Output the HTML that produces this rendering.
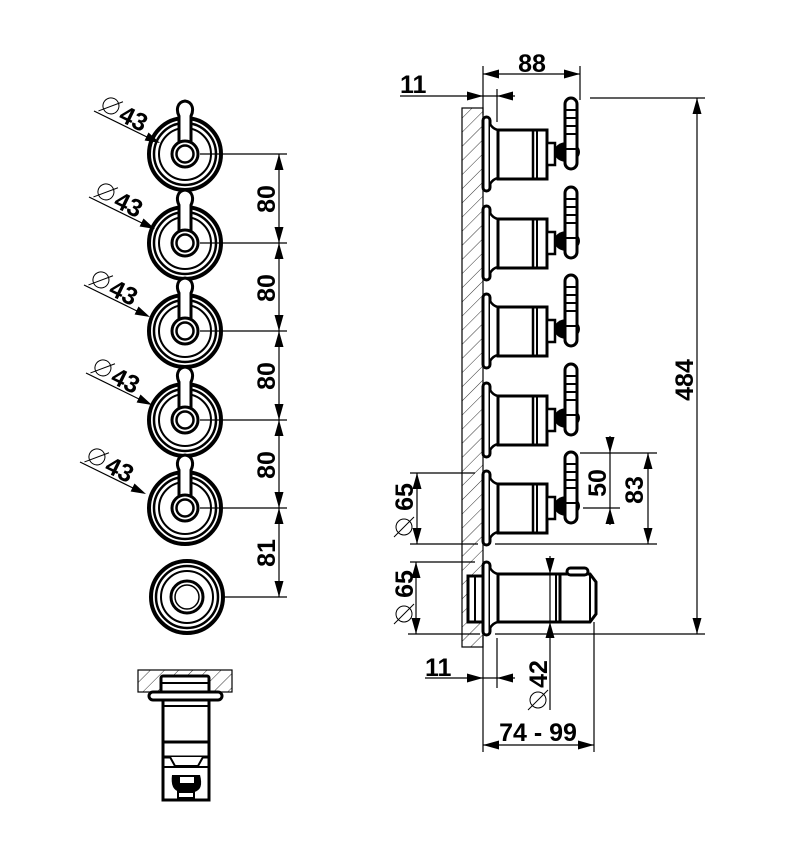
<!DOCTYPE html>
<html><head><meta charset="utf-8"><style>
html,body{margin:0;padding:0;background:#fff}
svg{display:block}
text{font-family:"Liberation Sans",sans-serif;font-weight:bold;fill:#000}
</style></head><body>
<svg width="786" height="842" viewBox="0 0 786 842" xmlns="http://www.w3.org/2000/svg">
<defs>
<pattern id="h" patternUnits="userSpaceOnUse" width="10" height="10" patternTransform="rotate(45)">
<line x1="0" y1="0" x2="0" y2="10" stroke="#000" stroke-width="0.8"/>
</pattern>
<g id="knob">
<circle r="36" fill="#fff" stroke="#000" stroke-width="4"/>
<circle r="31" fill="none" stroke="#000" stroke-width="2.5"/>
<circle r="26" fill="none" stroke="#000" stroke-width="2"/>
<path d="M-6,-8 L-6,-38 C-9,-44 -8,-52 0,-53 C8,-52 9,-44 6,-38 L6,-8" fill="#fff" stroke="#000" stroke-width="3"/>
<circle r="13" fill="#fff" stroke="#000" stroke-width="3"/>
<circle r="8.5" fill="#fff" stroke="#000" stroke-width="2.5"/>
</g>
<g id="valve">
<rect x="483" y="-37" width="7" height="74" rx="3.5" fill="#fff" stroke="#000" stroke-width="3"/>
<path d="M490,-30 Q493,-25 498,-24 L498,24 Q493,25 490,30" fill="#fff" stroke="#000" stroke-width="2.5"/>
<rect x="498" y="-24" width="49" height="49" fill="#fff" stroke="#000" stroke-width="3"/>
<line x1="533" y1="-24" x2="533" y2="25" stroke="#000" stroke-width="2.5"/>
<line x1="537" y1="-24" x2="537" y2="25" stroke="#000" stroke-width="2"/>
<rect x="547" y="-11" width="8" height="22" fill="#fff" stroke="#000" stroke-width="2.5"/>
<ellipse cx="567" cy="-2" rx="13" ry="10" fill="#000"/>
<rect x="565" y="-56" width="12" height="71" rx="6" fill="#fff" stroke="#000" stroke-width="3"/>
<g stroke="#000" stroke-width="2">
<line x1="565" y1="-44" x2="577" y2="-44"/><line x1="565" y1="-36" x2="577" y2="-36"/><line x1="565" y1="-28" x2="577" y2="-28"/><line x1="565" y1="-20" x2="577" y2="-20"/><line x1="565" y1="-5" x2="577" y2="-5"/>
</g>
</g>
<g id="d43"><line x1="0" y1="0" x2="55" y2="27" stroke="#000" stroke-width="1.2"/>
<polygon points="66,32 50.6,29.5 54.5,21.5" fill="#000"/>
<g transform="rotate(26)"><circle cx="13" cy="-12" r="8" fill="none" stroke="#000" stroke-width="1"/><line x1="4" y1="-2" x2="22" y2="-21" stroke="#000" stroke-width="1"/><text x="25" y="-2" font-size="25">43</text></g></g>
</defs>

<g transform="translate(185,154)"><use href="#knob"/></g>
<g transform="translate(185,243)"><use href="#knob"/></g>
<g transform="translate(185,331)"><use href="#knob"/></g>
<g transform="translate(185,420)"><use href="#knob"/></g>
<g transform="translate(185,508)"><use href="#knob"/></g>
<g transform="translate(187,597)">
<circle r="36" fill="#fff" stroke="#000" stroke-width="4"/>
<circle r="31" fill="none" stroke="#000" stroke-width="2.5"/>
<circle r="26" fill="none" stroke="#000" stroke-width="2"/>
<circle r="16" fill="#fff" stroke="#000" stroke-width="3"/>
<circle r="12" fill="none" stroke="#000" stroke-width="1.5"/>
</g>
<g transform="translate(94,111)"><use href="#d43"/></g>
<g transform="translate(89,197)"><use href="#d43"/></g>
<g transform="translate(84,285)"><use href="#d43"/></g>
<g transform="translate(86,373)"><use href="#d43"/></g>
<g transform="translate(80,462)"><use href="#d43"/></g>

<g stroke="#000" stroke-width="1.2">
<line x1="200" y1="154" x2="287" y2="154"/><line x1="200" y1="243" x2="287" y2="243"/><line x1="200" y1="331" x2="287" y2="331"/><line x1="200" y1="420" x2="287" y2="420"/><line x1="200" y1="508" x2="287" y2="508"/><line x1="222" y1="597" x2="287" y2="597"/>
<line x1="279" y1="154" x2="279" y2="597"/>
</g>
<g fill="#000">
<path d="M279,154 l-4.5,16 h9z M279,243 l-4.5,-16 h9z M279,243 l-4.5,16 h9z M279,331 l-4.5,-16 h9z M279,331 l-4.5,16 h9z M279,420 l-4.5,-16 h9z M279,420 l-4.5,16 h9z M279,508 l-4.5,-16 h9z M279,508 l-4.5,16 h9z M279,597 l-4.5,-16 h9z"/>
</g>
<g font-size="25">
<text transform="translate(275,199) rotate(-90)" text-anchor="middle">80</text>
<text transform="translate(275,288) rotate(-90)" text-anchor="middle">80</text>
<text transform="translate(275,376) rotate(-90)" text-anchor="middle">80</text>
<text transform="translate(275,465) rotate(-90)" text-anchor="middle">80</text>
<text transform="translate(275,553) rotate(-90)" text-anchor="middle">81</text>
</g>

<rect x="138" y="670" width="94" height="22" fill="url(#h)" stroke="#000" stroke-width="1.2"/>
<g stroke="#000" fill="#fff" stroke-width="3">
<rect x="161" y="676" width="48" height="17" rx="2"/>
<line x1="161" y1="683" x2="209" y2="683" stroke-width="2"/>
<rect x="149" y="692" width="73" height="8" rx="4"/>
<path d="M163,700 L163,800 L209,800 L209,700 Z"/>
<line x1="163" y1="706" x2="209" y2="706" stroke-width="2"/>
<line x1="163" y1="742" x2="209" y2="742"/>
<line x1="163" y1="757" x2="209" y2="757"/>
<path d="M170,757 L175,766 L198,766 L203,757" stroke-width="2"/>
<line x1="163" y1="767" x2="209" y2="767" stroke-width="2"/>
</g>
<path d="M172,775 Q170,790 180,792 L194,792 Q204,790 200,775 Z" fill="#000"/>
<rect x="180" y="777" width="14" height="6" fill="#fff"/>
<rect x="178" y="792" width="16" height="6" fill="#fff" stroke="#000" stroke-width="2"/>

<rect x="462" y="108" width="21" height="539" fill="url(#h)" stroke="#000" stroke-width="1.2"/>
<g transform="translate(0,154)"><use href="#valve"/></g>
<g transform="translate(0,243)"><use href="#valve"/></g>
<g transform="translate(0,331)"><use href="#valve"/></g>
<g transform="translate(0,420)"><use href="#valve"/></g>
<g transform="translate(0,508)"><use href="#valve"/></g>

<g stroke="#000" stroke-width="3" fill="#fff">
<rect x="468" y="576" width="15" height="46"/>
<line x1="475" y1="576" x2="475" y2="622" stroke-width="2"/>
<rect x="483" y="562" width="7" height="73" rx="3.5"/>
<path d="M490,568 Q493,573 498,574 L498,622 Q493,623 490,628" stroke-width="2.5"/>
<rect x="498" y="574" width="62" height="48"/>
<line x1="556" y1="574" x2="556" y2="622" stroke-width="2"/>
<path d="M560,574 L590,574 L596,582 L596,614 L590,622 L560,622 Z"/>
<line x1="590" y1="574" x2="590" y2="622" stroke-width="2"/>
<rect x="567" y="568" width="21" height="7" rx="3.5"/>
</g>

<g stroke="#000" stroke-width="1.2" fill="none">
<line x1="483" y1="66" x2="483" y2="115"/>
<line x1="580" y1="66" x2="580" y2="100"/>
<line x1="483" y1="74" x2="580" y2="74"/>
<line x1="400" y1="96" x2="515" y2="96"/>
<line x1="497" y1="89" x2="497" y2="122"/>
<line x1="590" y1="98" x2="705" y2="98"/>
<line x1="495" y1="634" x2="705" y2="634"/>
<line x1="697" y1="98" x2="697" y2="634"/>
<line x1="580" y1="453" x2="657" y2="453"/>
<line x1="583" y1="508" x2="620" y2="508"/>
<line x1="495" y1="544" x2="657" y2="544"/>
<line x1="610" y1="436" x2="610" y2="525"/>
<line x1="648" y1="453" x2="648" y2="544"/>
<line x1="410" y1="473" x2="475" y2="473"/>
<line x1="410" y1="544" x2="478" y2="544"/>
<line x1="417" y1="473" x2="417" y2="544"/>
<line x1="410" y1="562" x2="475" y2="562"/>
<line x1="408" y1="634" x2="480" y2="634"/>
<line x1="416" y1="562" x2="416" y2="634"/>
<line x1="425" y1="678" x2="515" y2="678"/>
<line x1="483" y1="636" x2="483" y2="752"/>
<line x1="497" y1="638" x2="497" y2="688"/>
<line x1="550" y1="556" x2="550" y2="710"/>
<line x1="594" y1="622" x2="594" y2="752"/>
<line x1="483" y1="745" x2="594" y2="745"/>
<circle cx="538" cy="700" r="8" stroke-width="1"/><line x1="528" y1="710" x2="548" y2="690" stroke-width="1"/>
<circle cx="404" cy="527" r="8" stroke-width="1"/><line x1="394" y1="537" x2="414" y2="517" stroke-width="1"/>
<circle cx="404" cy="614" r="8" stroke-width="1"/><line x1="394" y1="624" x2="414" y2="604" stroke-width="1"/>
</g>
<path fill="#000" d="
M483,74 l16,-4.5 v9z M580,74 l-16,-4.5 v9z
M483,96 l-16,-4.5 v9z M497,96 l16,-4.5 v9z
M697,98 l-4.5,16 h9z M697,634 l-4.5,-16 h9z
M610,453 l-4.5,-16 h9z M610,508 l-4.5,16 h9z
M648,453 l-4.5,16 h9z M648,544 l-4.5,-16 h9z
M417,473 l-4.5,16 h9z M417,544 l-4.5,-16 h9z
M416,562 l-4.5,16 h9z M416,634 l-4.5,-16 h9z
M483,678 l-16,-4.5 v9z M497,678 l16,-4.5 v9z
M550,574 l-4.5,-16 h9z M550,622 l-4.5,16 h9z
M483,745 l16,-4.5 v9z M594,745 l-16,-4.5 v9z"/>
<g font-size="25">
<text x="532" y="72" text-anchor="middle">88</text>
<text x="400" y="93">11</text>
<text x="425" y="676">11</text>
<text x="538" y="741" text-anchor="middle">74 - 99</text>
<text transform="translate(693,380) rotate(-90)" text-anchor="middle">484</text>
<text transform="translate(606,483) rotate(-90)" text-anchor="middle">50</text>
<text transform="translate(643,490) rotate(-90)" text-anchor="middle">83</text>
<text transform="translate(413,497) rotate(-90)" text-anchor="middle">65</text>
<text transform="translate(413,584) rotate(-90)" text-anchor="middle">65</text>
<text transform="translate(547,674) rotate(-90)" text-anchor="middle">42</text>
</g>
</svg>
</body></html>
